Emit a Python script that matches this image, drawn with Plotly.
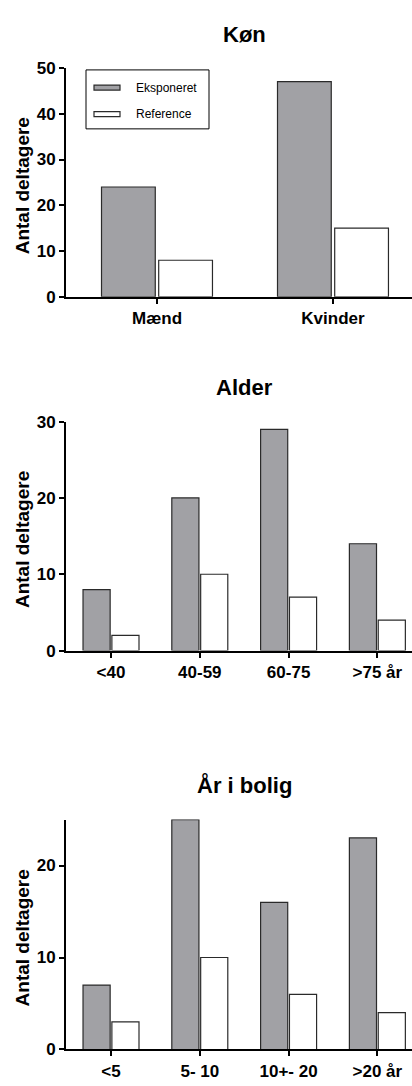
import plotly.graph_objects as go

W, H = 412, 1086

# Data
sex_categories = ["Mænd", "Kvinder"]
sex_exposed = [24, 47]
sex_reference = [8, 15]

age_categories = ["<40", "40-59", "60-75", ">75 år"]
age_exposed = [8, 20, 29, 14]
age_reference = [2, 10, 7, 4]

home_categories = ["<5", "5- 10", "10+- 20", ">20 år"]
home_exposed = [7, 25, 16, 23]
home_reference = [3, 10, 6, 4]

titles = ["Køn", "Alder", "År i bolig"]
series_names = ["Eksponeret", "Reference"]

GRAY = "#a1a1a5"
EDGE = "#2a2a2a"
FONT = "Liberation Sans, Arial, sans-serif"

def py(p):
    return 1 - p / H

def px(p):
    return p / W

panels = [
    (sex_categories, sex_exposed, sex_reference, (60, 293), [0, 50], [0, 10, 20, 30, 40, 50], [-0.517, 1.449], 26),
    (age_categories, age_exposed, age_reference, (420, 653), [0, 30], [0, 10, 20, 30], [-0.507, 3.39], 385),
    (home_categories, home_exposed, home_reference, (825, 1059), [0, 25], [0, 10, 20], [-0.507, 3.39], 790),
]

fig = go.Figure()
layout = dict(
    width=W, height=H,
    margin=dict(l=0, r=0, t=0, b=0),
    paper_bgcolor="white", plot_bgcolor="white",
    barmode="group", bargap=0.35, bargroupgap=0.06,
    showlegend=False,
    font=dict(family=FONT, color="black"),
)
annotations = []
shapes = []

for i, (cats, exp, ref, (top, bot), yr, yt, xr, ty) in enumerate(panels):
    n = "" if i == 0 else str(i + 1)
    xa, ya = "x" + n, "y" + n
    for name, vals, col in [(series_names[0], exp, GRAY), (series_names[1], ref, "white")]:
        fig.add_trace(go.Bar(
            x=cats, y=vals, name=name, xaxis=xa, yaxis=ya,
            marker=dict(color=col, line=dict(color=EDGE, width=1.2)),
        ))
    layout["xaxis" + n] = dict(
        domain=[px(66), 1.0], anchor=ya, range=xr, type="category",
        showline=True, linecolor="black", linewidth=2,
        ticks="outside", ticklen=5, tickwidth=2, tickcolor="black",
        showgrid=False, zeroline=False,
        tickfont=dict(size=17, weight="bold", family=FONT, color="black"),
    )
    layout["yaxis" + n] = dict(
        domain=[py(bot), py(top)], anchor=xa, range=yr, tickvals=yt,
        showline=True, linecolor="black", linewidth=2,
        ticks="outside", ticklen=5, tickwidth=2, tickcolor="black",
        showgrid=False, zeroline=False,
        tickfont=dict(size=17, weight="bold", family=FONT, color="black"),
    )
    annotations.append(dict(
        text=titles[i], x=px(245), y=py(ty), xref="paper", yref="paper",
        xanchor="center", yanchor="middle", showarrow=False,
        font=dict(size=22, weight="bold", family=FONT, color="black"),
    ))
    annotations.append(dict(
        text="Antal deltagere", x=px(22), y=py((top + bot) / 2 + 4), xref="paper", yref="paper",
        xanchor="center", yanchor="middle", showarrow=False, textangle=-90,
        font=dict(size=19, weight="bold", family=FONT, color="black"),
    ))

# custom legend for first panel
shapes.append(dict(type="rect", xref="paper", yref="paper",
                   x0=px(86), x1=px(209), y0=py(122), y1=py(62),
                   line=dict(color="black", width=1), fillcolor="white", layer="above"))
for j, (name, col, yc) in enumerate([(series_names[0], GRAY, 80), (series_names[1], "white", 107)]):
    shapes.append(dict(type="rect", xref="paper", yref="paper",
                       x0=px(94), x1=px(120), y0=py(yc + 2.5), y1=py(yc - 2.5),
                       line=dict(color=EDGE, width=1.2), fillcolor=col, layer="above"))
    annotations.append(dict(
        text=name, x=px(134), y=py(yc), xref="paper", yref="paper",
        xanchor="left", yanchor="middle", showarrow=False,
        font=dict(size=12, family=FONT, color="black"),
    ))

layout["annotations"] = annotations
layout["shapes"] = shapes
fig.update_layout(**layout)
fig.write_html("out.html")
